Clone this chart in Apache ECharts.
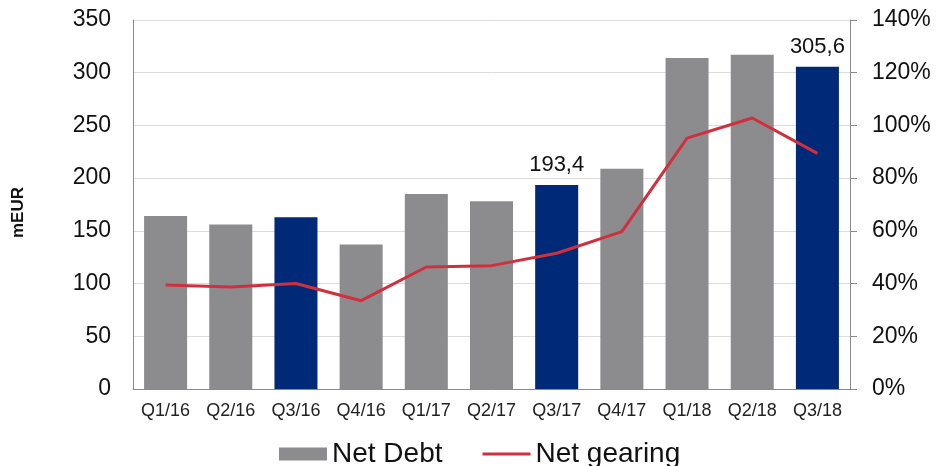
<!DOCTYPE html>
<html>
<head>
<meta charset="utf-8">
<script src="https://cdn.jsdelivr.net/npm/echarts@6/dist/echarts.min.js"></script>
<style>
html,body{margin:0;padding:0;background:#fff;}
#chart{width:941px;height:466px;}
</style>
</head>
<body>
<div id="chart"></div>
<script>
var categories = ['Q1/16','Q2/16','Q3/16','Q4/16','Q1/17','Q2/17','Q3/17','Q4/17','Q1/18','Q2/18','Q3/18'];
var netDebt = [164, 156, 163, 137, 185, 178, 193.4, 209, 314, 317, 305.6];
var netGearing = [39.5, 38.7, 40.0, 33.5, 46.3, 46.8, 51.5, 59.7, 95.2, 102.8, 89.4];
var highlighted = ['Q3/16','Q3/17','Q3/18'];
var labeled = ['Q3/17','Q3/18'];
var leftTicks = [0, 350, 50];
var rightTicks = [0, 140, 20];

var FONT = 'Liberation Sans, Arial, sans-serif';
var GREY = '#8c8c8e', NAVY = '#002a78', RED = '#d22f3c';

var chart = echarts.init(document.getElementById('chart'), null, {renderer:'canvas'});

var barData = categories.map(function(c, i){
  var item = {value: netDebt[i], itemStyle:{color: highlighted.indexOf(c) >= 0 ? NAVY : GREY}};
  if (labeled.indexOf(c) >= 0) {
    item.label = {show:true};
  }
  return item;
});

chart.setOption({
  animation:false,
  textStyle:{fontFamily:FONT},
  grid:{left:133, right:91, top:20, bottom:77, containLabel:false},
  legend:{
    left:274, top:435,
    itemWidth:48, itemHeight:13, itemGap:40,
    textStyle:{fontSize:28, color:'#111', fontFamily:FONT},
    data:[
      {name:'Net Debt', icon:'rect'},
      {name:'Net gearing', icon:'path://M0,0H48V3H0Z', itemStyle:{color:RED}}
    ]
  },
  xAxis:{
    type:'category', data:categories,
    axisLine:{lineStyle:{color:'#8a8a8a', width:1}},
    axisTick:{show:false},
    axisLabel:{color:'#222', fontSize:18, margin:13, interval:0, fontFamily:FONT}
  },
  yAxis:[{
    type:'value', min:leftTicks[0], max:leftTicks[1], interval:leftTicks[2],
    name:'mEUR', nameLocation:'middle', nameGap:106, nameRotate:90,
    nameTextStyle:{fontSize:17, fontWeight:'bold', color:'#111', fontFamily:FONT, padding:[0,0,0,-16]},
    axisLine:{show:true, lineStyle:{color:'#8a8a8a'}},
    axisTick:{show:false},
    axisLabel:{color:'#111', fontSize:23, margin:22, fontFamily:FONT},
    splitLine:{lineStyle:{color:'#dcdcdc', width:1}}
  },{
    type:'value', min:rightTicks[0], max:rightTicks[1], interval:rightTicks[2],
    position:'right',
    axisLine:{show:true, lineStyle:{color:'#8a8a8a'}},
    axisTick:{show:true, length:7, lineStyle:{color:'#8a8a8a'}},
    axisLabel:{color:'#111', fontSize:23, margin:22, fontFamily:FONT, formatter:'{value}%'},
    splitLine:{show:false}
  }],
  series:[{
    name:'Net Debt', type:'bar', yAxisIndex:0, barCategoryGap:'34%',
    itemStyle:{color:GREY},
    label:{show:false, position:'top', distance:9, fontSize:22, color:'#111', fontFamily:FONT,
      formatter:function(p){ return p.value.toFixed(1).replace('.', ','); }},
    data:barData
  },{
    name:'Net gearing', type:'line', yAxisIndex:1, symbol:'none',
    lineStyle:{color:RED, width:3},
    itemStyle:{color:RED},
    data:netGearing
  }]
});
</script>
</body>
</html>
